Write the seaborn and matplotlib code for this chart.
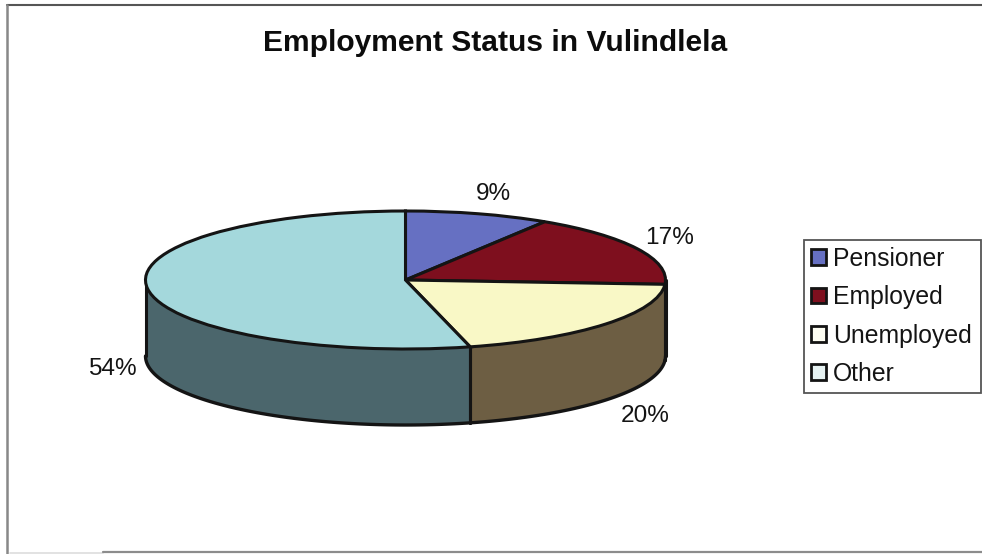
import numpy as np
import matplotlib
matplotlib.use("Agg")
import matplotlib.pyplot as plt
from matplotlib.lines import Line2D
import seaborn as sns

categories = ["Pensioner", "Employed", "Unemployed", "Other"]
shares = [9, 17, 20, 54]
top_colors = ["#6670C2", "#7E0F1E", "#F9F8C6", "#A4D8DC"]
wall_colors = ["#39406C", "#480A12", "#6D5E43", "#4B666C"]
swatch_colors = ["#6670C2", "#7E0F1E", "#FDFDF2", "#E6F2F2"]

W, H = 982, 554
CX, CY, RX, RY, DEPTH = 405.5, 280.0, 260.0, 69.0, 76.0
INK = "#141414"

sns.set_theme(style="white")
plt.rcParams["font.family"] = ["Liberation Sans", "DejaVu Sans"]

fig = plt.figure(figsize=(W / 100, H / 100), dpi=100, facecolor="white")
ax = fig.add_axes([0, 0, 1, 1])
palette = sns.color_palette(top_colors)

# Top face: a unit pie squashed by the axes limits into an ellipse.
wedges, _ = ax.pie(
    shares, colors=palette, startangle=90, counterclock=False, radius=1,
    wedgeprops={"edgecolor": INK, "linewidth": 2.2, "zorder": 5},
)
for w in wedges:
    w.set_zorder(5)
ax.set_aspect("auto")
ax.set_xlim(-CX / RX, (W - CX) / RX)
ax.set_ylim(-(H - CY) / RY, CY / RY)
ax.axis("off")

depth = DEPTH / RY

# Side wall: the front half of the rim, split where the slices meet it.
edges = np.cumsum([0] + shares) / sum(shares) * 2 * np.pi
for start, stop, color in zip(edges[:-1], edges[1:], wall_colors):
    lo, hi = max(start, np.pi / 2), min(stop, 3 * np.pi / 2)
    if lo >= hi:
        continue
    t = np.linspace(lo, hi, 120)
    x, y = np.sin(t), np.cos(t)
    ax.fill_between(x, y, y - depth, color=color, linewidth=0, zorder=2)
    ax.plot(x, y - depth, color=INK, lw=2.4, zorder=3)
    ax.plot([x[0], x[0]], [y[0], y[0] - depth], color=INK, lw=2.2, zorder=3)
    ax.plot([x[-1], x[-1]], [y[-1], y[-1] - depth], color=INK, lw=2.2, zorder=3)


def fig_xy(px, py):
    """Pixel position measured from the top-left corner, in figure fractions."""
    return px / W, 1 - py / H


# Percentage labels beside each slice.
label_positions = [(493, 193.5), (670, 237.5), (645, 415.5), (112, 369)]
for value, (px, py) in zip(shares, label_positions):
    fx, fy = fig_xy(px, py)
    fig.text(fx, fy, f"{value}%", ha="center", va="center",
             fontsize=17.6, color=INK)

fx, fy = fig_xy(495, 43)
fig.text(fx, fy, "Employment Status in Vulindlela", ha="center", va="center",
         fontsize=21.6, fontweight="bold", color="#0c0c0c")

# Legend box on the right; the pale swatches read mostly as outlines.
lx0, ly0 = fig_xy(804, 393)
lx1, ly1 = fig_xy(981, 240)
leg = fig.legend(
    wedges, categories, loc="center left",
    bbox_to_anchor=(lx0, ly0, lx1 - lx0, ly1 - ly0), mode="expand",
    fontsize=17.8, frameon=True, fancybox=False, edgecolor="#555555",
    framealpha=1, borderaxespad=0, handlelength=0.6, handleheight=0.6,
    handletextpad=0.28, labelspacing=0.58, borderpad=0.3, labelcolor=INK,
)
leg.get_frame().set_linewidth(1.3)
for handle, swatch in zip(leg.legend_handles, swatch_colors):
    handle.set_linewidth(2)
    handle.set_edgecolor(INK)
    handle.set_facecolor(swatch)

# Scanned outer frame of the chart area.
frame = [
    ((7, 5), (982, 5), "#555555", 1.5),
    ((7, 5), (7, 554), "#888888", 1.8),
    ((10, 553), (103, 553), "#dddddd", 1.2),
    ((103, 552), (982, 552), "#8c8c8c", 1.6),
]
for a, b, color, lw in frame:
    (xa, ya), (xb, yb) = fig_xy(*a), fig_xy(*b)
    fig.add_artist(Line2D([xa, xb], [ya, yb], color=color, lw=lw))

fig.savefig("out.png", dpi=100, facecolor="white")
